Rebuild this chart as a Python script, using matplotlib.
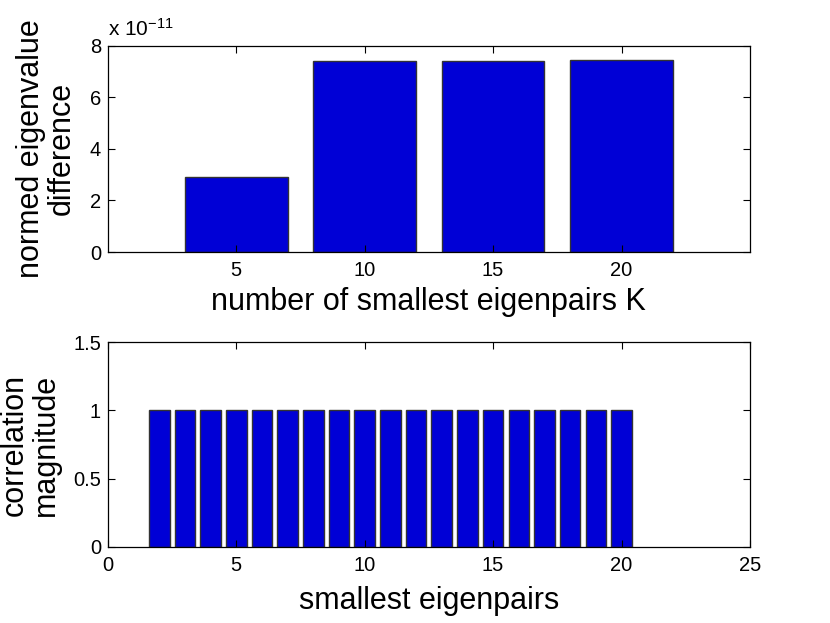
import numpy as np
import matplotlib.pyplot as plt
from matplotlib.ticker import FuncFormatter

# data
k_values = [5, 10, 15, 20]
eig_diff = [2.92e-11, 7.40e-11, 7.42e-11, 7.45e-11]
pair_index = list(range(2, 21))
corr_mag = [1.0] * len(pair_index)

plt.rcParams['font.family'] = ['Liberation Sans', 'DejaVu Sans']
plt.rcParams['mathtext.fontset'] = 'custom'
plt.rcParams['mathtext.rm'] = 'Liberation Sans'
plt.rcParams['mathtext.it'] = 'Liberation Sans'

bar_color = '#0000d6'

fig = plt.figure(figsize=(8.3, 6.23), dpi=100)
ax1 = fig.add_axes([0.130, 0.5955, 0.7735, 0.331])
ax2 = fig.add_axes([0.130, 0.122, 0.7735, 0.329])

for ax in (ax1, ax2):
    ax.tick_params(direction='in', top=True, right=True, labelsize=14.5,
                   length=5, width=0.8)
    ax.tick_params(axis='x', pad=6.5)
    ax.tick_params(axis='y', pad=5)
    for s in ax.spines.values():
        s.set_linewidth(0.9)

# top: eigenvalue difference
ax1.bar(k_values, eig_diff, width=4, color=bar_color, edgecolor='#333333',
        linewidth=1)
ax1.set_xlim(0, 25)
ax1.set_ylim(0, 8e-11)
ax1.set_xticks(k_values)
ax1.set_yticks(np.arange(0, 9e-11, 2e-11))
ax1.yaxis.set_major_formatter(FuncFormatter(lambda v, p: '%g' % round(v / 1e-11, 6)))
ax1.text(0, 1.03, r'x 10$^{-11}$', transform=ax1.transAxes, fontsize=15,
         ha='left', va='bottom')
ax1.set_xlabel('number of smallest eigenpairs K', fontsize=22, labelpad=5)
ax1.set_ylabel('normed eigenvalue\ndifference', fontsize=22, labelpad=9,
               linespacing=1.05)

# bottom: correlation magnitude
ax2.bar(pair_index, corr_mag, width=0.8, color=bar_color, edgecolor='#333333',
        linewidth=1)
ax2.set_xlim(0, 25)
ax2.set_ylim(0, 1.5)
ax2.set_xticks(range(0, 26, 5))
ax2.set_yticks([0, 0.5, 1, 1.5])
ax2.set_yticklabels(['0', '0.5', '1', '1.5'])
ax2.set_xlabel('smallest eigenpairs', fontsize=22, labelpad=8)
ax2.set_ylabel('correlation\nmagnitude', fontsize=22, labelpad=9,
               linespacing=1.05)

fig.savefig('out.png', dpi=100)
